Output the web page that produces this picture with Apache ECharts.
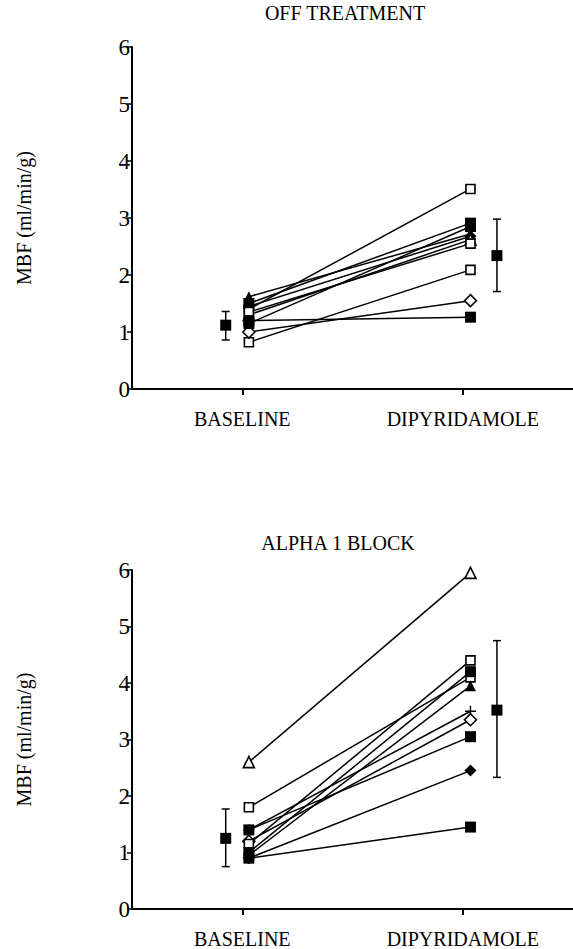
<!DOCTYPE html>
<html>
<head>
<meta charset="utf-8">
<script src="https://cdn.jsdelivr.net/npm/echarts@6/dist/echarts.min.js"></script>
<style>
html, body { margin: 0; padding: 0; background: #fff; }
#container { width: 573px; height: 949px; }
</style>
</head>
<body>
<div id="container"></div>
<script>
var categories = ['BASELINE', 'DIPYRIDAMOLE'];
var titles = ['OFF TREATMENT', 'ALPHA 1 BLOCK'];
var yName = 'MBF (ml/min/g)';

// off treatment: one pair per patient
var offBaseline = [1.40, 1.50, 1.62, 1.45, 1.30, 1.35, 0.82, 1.00, 1.20, 1.15];
var offDipyr    = [3.51, 2.91, 2.72, 2.68, 2.62, 2.55, 2.09, 1.55, 1.26, 2.85];
var offSymbols  = ['rect-open', 'rect', 'triangle', 'diamond', 'triangle-open', 'rect-open', 'rect-open', 'diamond-open', 'rect', 'rect'];
var offMean = [1.12, 2.34];
var offLow  = [0.86, 1.71];
var offHigh = [1.36, 2.98];

// alpha 1 block
var alphaBaseline = [2.60, 1.80, 1.40, 1.40, 1.20, 1.15, 1.00, 0.95, 0.90, 0.90];
var alphaDipyr    = [5.95, 4.10, 3.50, 3.05, 3.35, 4.40, 4.20, 3.95, 2.45, 1.45];
var alphaSymbols  = ['triangle-open', 'rect-open', 'plus', 'rect', 'diamond-open', 'rect-open', 'rect', 'triangle', 'diamond', 'rect'];
var alphaMean = [1.25, 3.52];
var alphaLow  = [0.75, 2.33];
var alphaHigh = [1.77, 4.75];

var catX = [1, 3];          // tick positions of the two categories
var pointX = [1.06, 3.07];  // where individual points sit
var meanX = [0.85, 3.31];   // where mean +- sd sits
var serif = 'Liberation Serif';

var myChart = echarts.init(document.getElementById('container'), null, {renderer: 'svg'});

var plusPath = 'path://M5,0 L5,10 M0,5 L10,5';

function markerItem(x, y, sym) {
    var open = sym.indexOf('-open') > 0;
    var shape = sym.replace('-open', '');
    var item = {value: [x, y]};
    if (shape === 'plus') {
        item.symbol = plusPath;
        item.symbolSize = 11;
        item.itemStyle = {color: 'rgba(0,0,0,0)', borderColor: '#000', borderWidth: 1.4};
    } else {
        item.symbol = shape;
        item.symbolSize = shape === 'rect' ? (open ? 9 : 11) : (shape === 'diamond' ? 12 : 11);
        item.itemStyle = open ? {color: '#fff', borderColor: '#000', borderWidth: 1.6}
                              : {color: '#000', borderColor: '#000', borderWidth: 0};
    }
    return item;
}

var series = [];
function addPanel(idx, base, dip, syms, mean, low, high) {
    for (var i = 0; i < base.length; i++) {
        series.push({
            type: 'line',
            xAxisIndex: idx,
            yAxisIndex: idx,
            animation: false,
            silent: true,
            z: 2 + i,
            lineStyle: {color: '#000', width: 1.5},
            data: [markerItem(pointX[0], base[i], syms[i]), markerItem(pointX[1], dip[i], syms[i])]
        });
    }
    var errData = [];
    for (var j = 0; j < mean.length; j++) {
        errData.push([meanX[j], mean[j], low[j], high[j]]);
    }
    series.push({
        type: 'custom',
        xAxisIndex: idx,
        yAxisIndex: idx,
        animation: false,
        silent: true,
        data: errData,
        renderItem: function (params, api) {
            var top = api.coord([api.value(0), api.value(3)]);
            var bot = api.coord([api.value(0), api.value(2)]);
            var mid = api.coord([api.value(0), api.value(1)]);
            var st = {stroke: '#000', lineWidth: 1.5};
            return {
                type: 'group',
                children: [
                    {type: 'line', shape: {x1: top[0], y1: top[1], x2: bot[0], y2: bot[1]}, style: st},
                    {type: 'line', shape: {x1: top[0] - 4, y1: top[1], x2: top[0] + 4, y2: top[1]}, style: st},
                    {type: 'line', shape: {x1: bot[0] - 4, y1: bot[1], x2: bot[0] + 4, y2: bot[1]}, style: st},
                    {type: 'rect', shape: {x: mid[0] - 5.5, y: mid[1] - 5.5, width: 11, height: 11}, style: {fill: '#000'}}
                ]
            };
        }
    });
}
addPanel(0, offBaseline, offDipyr, offSymbols, offMean, offLow, offHigh);
addPanel(1, alphaBaseline, alphaDipyr, alphaSymbols, alphaMean, alphaLow, alphaHigh);

function makeX(idx) {
    return {
        type: 'value', gridIndex: idx, min: 0, max: 4,
        splitLine: {show: false},
        axisLine: {show: true, lineStyle: {color: '#000', width: 2}},
        axisTick: {show: true, customValues: catX, length: 6, lineStyle: {color: '#000', width: 2}},
        axisLabel: {
            customValues: catX, margin: 20, color: '#000', fontFamily: serif, fontSize: 20,
            formatter: function (v) { return categories[catX.indexOf(v)]; }
        }
    };
}
function makeY(idx) {
    return {
        type: 'value', gridIndex: idx, min: 0, max: 6, interval: 1,
        splitLine: {show: false},
        axisLine: {show: true, onZero: false, lineStyle: {color: '#000', width: 2}},
        axisTick: {show: true, length: 5, lineStyle: {color: '#000', width: 1.5}},
        axisLabel: {margin: 2, color: '#000', fontFamily: serif, fontSize: 23},
        name: yName, nameLocation: 'middle', nameGap: 98, nameRotate: 90,
        nameTextStyle: {color: '#000', fontFamily: serif, fontSize: 20}
    };
}

option = {
    backgroundColor: '#fff',
    animation: false,
    grid: [
        {left: 132, top: 47, width: 441, height: 342},
        {left: 132, top: 570, width: 441, height: 342}
    ],
    xAxis: [makeX(0), makeX(1)],
    yAxis: [makeY(0), makeY(1)],
    graphic: [
        {type: 'text', x: 345, y: 13, style: {text: titles[0], fill: '#000', font: '20px "Liberation Serif"', textAlign: 'center', textVerticalAlign: 'middle'}},
        {type: 'text', x: 338, y: 543, style: {text: titles[1], fill: '#000', font: '20px "Liberation Serif"', textAlign: 'center', textVerticalAlign: 'middle'}}
    ],
    series: series
};

myChart.setOption(option, true);
</script>
</body>
</html>
